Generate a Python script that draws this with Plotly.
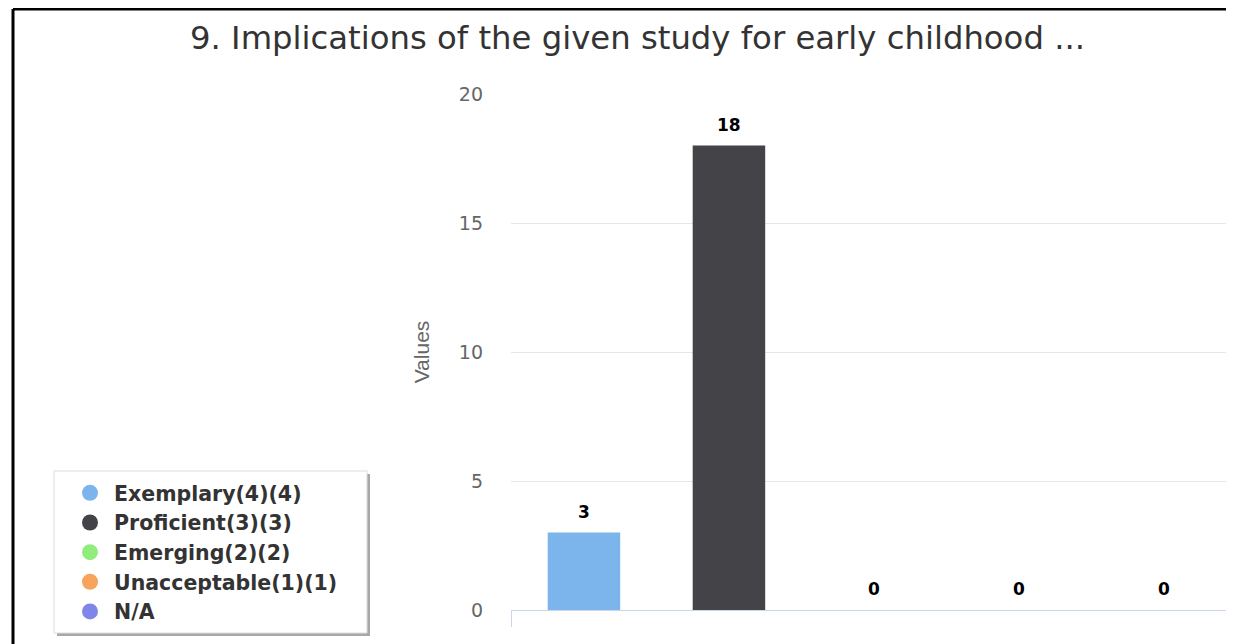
import plotly.graph_objects as go

categories = ["Exemplary(4)(4)", "Proficient(3)(3)", "Emerging(2)(2)", "Unacceptable(1)(1)", "N/A"]
values = [3, 18, 0, 0, 0]
colors = ["#7cb5ec", "#434348", "#90ed7d", "#f7a35c", "#8085e9"]
y_ticks = [0, 5, 10, 15, 20]
title_text = "9. Implications of the given study for early childhood ..."

W, H = 1234, 644
plot_left, plot_top, plot_bottom = 503, 86, 602
cat_px = 145.0
x0 = -0.503
x1 = x0 + (W - plot_left) / cat_px


def px(x):
    return x / W


def py(y):
    return 1 - y / H


fig = go.Figure()
xs = list(range(len(categories)))
fig.add_trace(go.Bar(x=xs, y=values, marker=dict(color=colors, line=dict(width=0)),
                     width=0.5, showlegend=False, hoverinfo="skip"))
for i, c in enumerate(categories):
    fig.add_trace(go.Scatter(x=[None], y=[None], mode="markers", name=c, legendgroup=f"g{i}",
                             marker=dict(symbol="circle", size=19, color=colors[i])))

for i, v in enumerate(values):
    fig.add_annotation(x=i, y=v, text=f"<b>{v}</b>", showarrow=False, yanchor="middle",
                       yshift=21, font=dict(family="DejaVu Sans", size=17, color="#000000"))

fig.update_layout(
    width=W, height=H,
    margin=dict(l=0, r=0, t=0, b=0, autoexpand=False),
    paper_bgcolor="white", plot_bgcolor="white",
    title=dict(text=title_text, x=px(629.5), xanchor="center", y=py(30), yanchor="middle",
               yref="container", automargin=False,
               font=dict(family="DejaVu Sans", size=32.3, color="#333333")),
    xaxis=dict(domain=[px(plot_left), 1], range=[x0, x1], showgrid=False, zeroline=False,
               showline=True, linecolor="#ccd6eb", linewidth=1, automargin=False,
               tickvals=[-0.5], ticktext=[""], ticks="outside", ticklen=16, tickcolor="#ccd6eb"),
    yaxis=dict(domain=[1 - plot_bottom / H, py(plot_top)], range=[0, 20], tickvals=y_ticks,
               showgrid=True, gridcolor="#e6e6e6", zeroline=False, showline=False, automargin=False,
               tickfont=dict(family="DejaVu Sans", size=19, color="#666666"),
               ticklabelstandoff=27,
               title=dict(text="Values", standoff=23,
                          font=dict(family="Liberation Sans, Arial", size=21, color="#666666"))),
    legend=dict(x=px(58), y=py(465), xanchor="left", yanchor="top",
                bgcolor="rgba(0,0,0,0)", borderwidth=0,
                font=dict(family="DejaVu Sans", size=20.5, color="#333333", weight="bold"),
                itemwidth=38, tracegroupgap=0, traceorder="grouped"),
    shapes=[
        dict(type="line", xref="paper", yref="paper", x0=px(5), x1=1, y0=py(1), y1=py(1),
             line=dict(color="black", width=3)),
        dict(type="line", xref="paper", yref="paper", x0=px(5), x1=px(5), y0=py(1), y1=0,
             line=dict(color="black", width=3)),
        dict(type="rect", xref="paper", yref="paper", x0=px(49), x1=px(362), y0=py(628), y1=py(466),
             line=dict(width=0), fillcolor="#a8a8a8", layer="above"),
        dict(type="rect", xref="paper", yref="paper", x0=px(46), x1=px(359), y0=py(625), y1=py(463),
             line=dict(width=1, color="#dddddd"), fillcolor="white", layer="above"),
    ],
)

fig.write_html("out.html")
